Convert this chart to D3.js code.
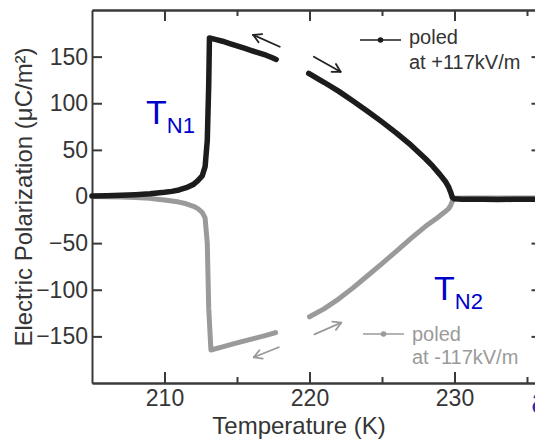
<!DOCTYPE html>
<html>
<head>
<meta charset="utf-8">
<script src="https://cdn.jsdelivr.net/npm/d3@7/dist/d3.min.js"></script>
<style>
  html, body { margin: 0; padding: 0; background: #fff; }
  svg { display: block; font-family: "Liberation Sans", Arial, sans-serif; }
</style>
</head>
<body>
<svg id="chart" width="535" height="440"></svg>
<script>
// Polarization vs temperature, poled at +117 kV/m (black) and -117 kV/m (gray)
// Each run: low-temperature branch (up to ~217.7 K) and high-temperature branch (from ~220 K)
const posLowT = [205, 206, 207, 208, 209, 210, 210.5, 211, 211.5, 212, 212.3, 212.6, 212.8, 212.95, 213.05, 213.1, 213.5, 214, 214.5, 215, 215.5, 216, 216.5, 217, 217.4, 217.7];
const posLowP = [0.5, 0.8, 1.3, 2, 3, 4.5, 5.5, 7, 9.5, 13, 17, 22, 32, 60, 120, 170, 168.5, 166.5, 164, 161.5, 159, 156.5, 154, 151.5, 149, 147];
const posHighT = [219.95, 220.5, 221, 222, 223, 224, 225, 226, 227, 228, 228.5, 229, 229.4, 229.6, 229.75, 229.85, 230, 230.5, 231, 232, 233, 234, 235, 236];
const posHighP = [132, 127, 122.5, 113, 102.5, 91.5, 80, 68, 55, 40.5, 32.5, 23.5, 15.5, 10, 4, -1, -2.5, -3, -3, -3, -3.3, -3, -3, -3];

const negLowT = [205, 206, 207, 208, 209, 209.5, 210, 210.5, 211, 211.5, 212, 212.3, 212.6, 212.8, 212.95, 213.05, 213.2, 214, 215, 216, 217, 217.66];
const negLowP = [0, -0.3, -0.6, -1, -2, -3, -3.8, -4.8, -6, -7.8, -10.5, -13, -17, -23, -50, -120, -164.6, -161.3, -157, -153, -149, -146];
const negHighT = [220, 221, 222, 223, 224, 225, 226, 227, 228, 228.8, 229.3, 229.6, 229.75, 229.85, 230, 231, 232, 233, 234, 235, 236];
const negHighP = [-129, -120.5, -110, -98, -85, -72, -58.5, -45, -32, -23, -17, -13, -9, -5, -2, -1.5, -1.5, -1.5, -1.5, -1.5, -1.5];

// Sweep-direction arrows: [T start, P start, T end, P end]
const posArrows = [[217.95, 160.6, 216.12, 173.2], [220.3, 149.9, 222.14, 133.8]];
const negArrows = [[217.88, -161.7, 216.16, -172.4], [220.34, -147.8, 222.19, -135.3]];

const xMajor = [210, 220, 230];
const xMinor = [215, 225, 235];
const yTicks = [-150, -100, -50, 0, 50, 100, 150];

const legendLabels = [["poled", "at +117kV/m"], ["poled", "at -117kV/m"]];

const svg = d3.select("#chart");
const mLeft = 92, mRight = 541.5, mTop = 10, mBottom = 383;
const x = d3.scaleLinear().domain([205, 236]).range([mLeft, mRight]);
const y = d3.scaleLinear().domain([-200, 200]).range([mBottom, mTop]);

const axisColor = "#3a3a3a";
const textColor = "#353535";
const black = "#1c1c1c";
const gray = "#9a9a9a";

// Frame with inward ticks
function styleAxis(g) {
  g.selectAll("path.domain").attr("stroke", axisColor).attr("stroke-width", 2);
  g.selectAll(".tick line").attr("stroke", axisColor).attr("stroke-width", 2);
  g.selectAll(".tick text").attr("fill", textColor).style("font-size", "23px")
    .style("font-family", '"Liberation Sans", Arial, sans-serif');
}

// bottom major + minor
svg.append("g").attr("transform", `translate(0,${mBottom})`)
  .call(d3.axisBottom(x).tickValues(xMajor).tickSizeInner(-11).tickSizeOuter(0).tickPadding(7).tickFormat(d3.format("d")))
  .call(styleAxis);
svg.append("g").attr("transform", `translate(0,${mBottom})`)
  .call(d3.axisBottom(x).tickValues(xMinor).tickSizeInner(-6).tickSizeOuter(0).tickFormat(""))
  .call(styleAxis);
// top
svg.append("g").attr("transform", `translate(0,${mTop})`)
  .call(d3.axisTop(x).tickValues(xMajor).tickSizeInner(-11).tickSizeOuter(0).tickFormat(""))
  .call(styleAxis);
svg.append("g").attr("transform", `translate(0,${mTop})`)
  .call(d3.axisTop(x).tickValues(xMinor).tickSizeInner(-6).tickSizeOuter(0).tickFormat(""))
  .call(styleAxis);
// left
svg.append("g").attr("transform", `translate(${mLeft},0)`)
  .call(d3.axisLeft(y).tickValues(yTicks).tickSizeInner(-10).tickSizeOuter(0).tickPadding(4).tickFormat(d3.format("d")))
  .call(styleAxis);
// right
svg.append("g").attr("transform", `translate(${mRight},0)`)
  .call(d3.axisRight(y).tickValues(yTicks).tickSizeInner(-10).tickSizeOuter(0).tickFormat(""))
  .call(styleAxis);

// Axis titles
svg.append("text")
  .attr("x", 299).attr("y", 434)
  .attr("text-anchor", "middle")
  .attr("fill", textColor).style("font-size", "24px")
  .text("Temperature (K)");
svg.append("text")
  .attr("transform", "translate(32,197) rotate(-90)")
  .attr("text-anchor", "middle")
  .attr("fill", textColor).style("font-size", "24px")
  .text("Electric Polarization (\u03BCC/m\u00B2)");

// Curves
const line = d3.line().x(d => x(d[0])).y(d => y(d[1])).curve(d3.curveLinear);
const zip = (a, b) => a.map((v, i) => [v, b[i]]);

const curves = [
  { pts: zip(negLowT, negLowP), color: gray, w: 5 },
  { pts: zip(negHighT, negHighP), color: gray, w: 5 },
  { pts: zip(posLowT, posLowP), color: black, w: 5.5 },
  { pts: zip(posHighT, posHighP), color: black, w: 5.5 }
];
svg.append("g").selectAll("path").data(curves).join("path")
  .attr("d", d => line(d.pts))
  .attr("fill", "none")
  .attr("stroke", d => d.color)
  .attr("stroke-width", d => d.w)
  .attr("stroke-linejoin", "round")
  .attr("stroke-linecap", "round");

// Arrows
function drawArrows(list, color) {
  const g = svg.append("g").attr("stroke", color).attr("stroke-width", 1.8)
    .attr("fill", "none").attr("stroke-linecap", "round");
  list.forEach(a => {
    const x0 = x(a[0]), y0 = y(a[1]), x1 = x(a[2]), y1 = y(a[3]);
    g.append("line").attr("x1", x0).attr("y1", y0).attr("x2", x1).attr("y2", y1);
    const ang = Math.atan2(y1 - y0, x1 - x0);
    const L = 9, spread = Math.PI / 6;
    [ang + Math.PI - spread, ang + Math.PI + spread].forEach(t => {
      g.append("line").attr("x1", x1).attr("y1", y1)
        .attr("x2", x1 + L * Math.cos(t)).attr("y2", y1 + L * Math.sin(t));
    });
  });
}
drawArrows(posArrows, "#222");
drawArrows(negArrows, gray);

// Legends
const legends = [
  { lx: 360, ly: 40, color: "#333", lineColor: black, texts: legendLabels[0], tx: 409, ty1: 44, ty2: 69 },
  { lx: 363, ly: 334, color: gray, lineColor: gray, texts: legendLabels[1], tx: 412, ty1: 341, ty2: 364 }
];
legends.forEach(l => {
  const g = svg.append("g");
  g.append("line").attr("x1", l.lx).attr("x2", l.lx + 41).attr("y1", l.ly).attr("y2", l.ly)
    .attr("stroke", l.lineColor).attr("stroke-width", 1.6);
  g.append("circle").attr("cx", l.lx + 20.5).attr("cy", l.ly).attr("r", 2.8).attr("fill", l.lineColor);
  g.append("text").attr("x", l.tx).attr("y", l.ty1).attr("fill", l.color).style("font-size", "20px").text(l.texts[0]);
  g.append("text").attr("x", l.tx).attr("y", l.ty2).attr("fill", l.color).style("font-size", "20px").text(l.texts[1]);
});

// Transition labels
const blue = "#0000cc";
function tLabel(px, py, sub) {
  const t = svg.append("text").attr("x", px).attr("y", py).attr("fill", blue).style("font-size", "34px");
  t.append("tspan").text("T");
  t.append("tspan").attr("dy", 9).style("font-size", "22px").text(sub);
}
tLabel(146, 124, "N1");
tLabel(434, 300, "N2");

// Panel letter at the lower-right edge
svg.append("text").attr("x", 531).attr("y", 413).attr("fill", "#2c2cb0")
  .style("font-size", "36px").text("a");
</script>
</body>
</html>
